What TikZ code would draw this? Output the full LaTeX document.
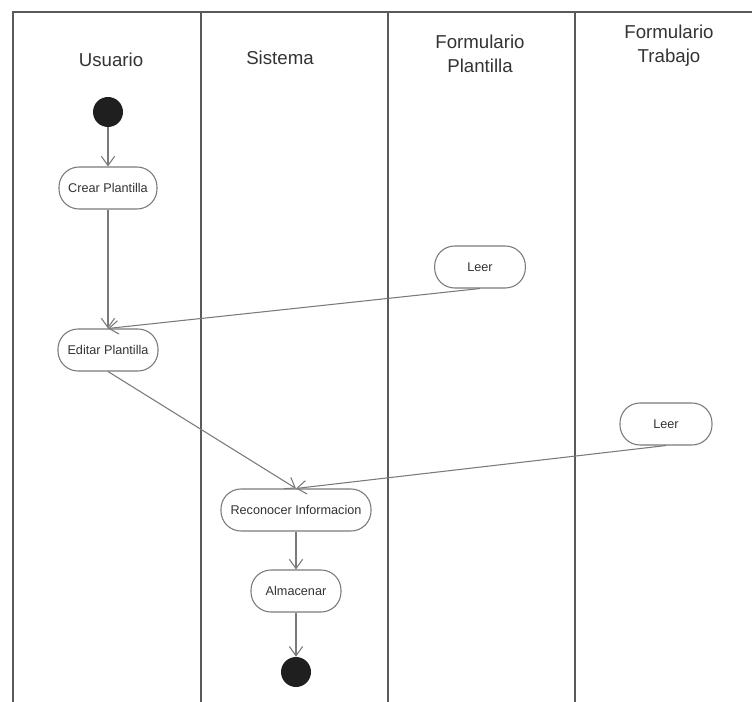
\documentclass[tikz,border=0pt]{standalone}
\usepackage{fontspec}
\setmainfont{Liberation Sans}
\usepackage{xcolor}
\usetikzlibrary{shapes}
\usetikzlibrary{positioning, arrows.meta}
\newcommand{\LaneBottom}{702}
\definecolor{lanegray}{HTML}{5A5A5A}
\definecolor{flowgray}{HTML}{7A7A7A}
\definecolor{textgray}{HTML}{333333}

\begin{document}
\begin{tikzpicture}[x = 0.75pt, y = -0.75pt,
    lane/.style = {draw = lanegray, line width = 1.2pt},
    title/.style = {font = \fontsize{14}{18}\selectfont, text = textgray, align = center},
    action/.style = {draw = flowgray, line width = 0.8pt, rounded corners = 15pt,
        minimum height = 31.5pt, inner xsep = 2pt, fill = white,
        font = \fontsize{9.5}{11}\selectfont, text = textgray},
    startstop/.style = {circle, fill = black!88, minimum size = 22.5pt, inner sep = 0pt},
    flow/.style = {draw = flowgray, line width = 0.8pt, -{Straight Barb[length = 7pt, width = 10pt]}}
]
    \useasboundingbox (0, 0) rectangle (752, 702);

    % draw swimlanes
    \draw[lane] (13, \LaneBottom) -- (13, 12) -- (752, 12);
    \foreach \x in {201, 388, 575}
        \draw[lane] (\x, 12) -- (\x, \LaneBottom);

    % draw lane titles
    \node[title] (usuario) at (111, 60) {Usuario};
    \node[title] (sistema) at (280, 58) {Sistema};
    \node[title] (formPlantilla) at (480, 54) {Formulario\\Plantilla};
    \node[title] (formTrabajo) at (669, 46) {Formulario\\Trabajo};


    % draw activities
    \node[startstop] (inicio) at (108, 112) {};
    \node[action, minimum width = 73.5pt] (crear) at (108, 188) {Crear Plantilla};
    \node[action, minimum width = 75pt] (editar) at (108, 350) {Editar Plantilla};

    \node[action, minimum width = 68pt] (leerPlantilla) at (480, 267) {Leer};
    \node[action, minimum width = 69pt] (leerTrabajo) at (666, 424) {Leer};

    \node[action, minimum width = 112.5pt] (reconocer) at (296, 510) {Reconocer Informacion};
    \node[action, minimum width = 67.5pt] (almacenar) at (296, 591) {Almacenar};
    \node[startstop] (fin) at (296, 672) {};


    % draw transitions
    \draw[flow] (inicio) -- (crear);
    \draw[flow] (crear) -- (editar);
    \draw[flow] (leerPlantilla.south) -- (editar.north);
    \draw[flow] (editar.south) -- (reconocer.north);
    \draw[flow] (leerTrabajo.south) -- (reconocer.north);
    \draw[flow] (reconocer) -- (almacenar);
    \draw[flow] (almacenar) -- (fin);

\end{tikzpicture}
\end{document}
